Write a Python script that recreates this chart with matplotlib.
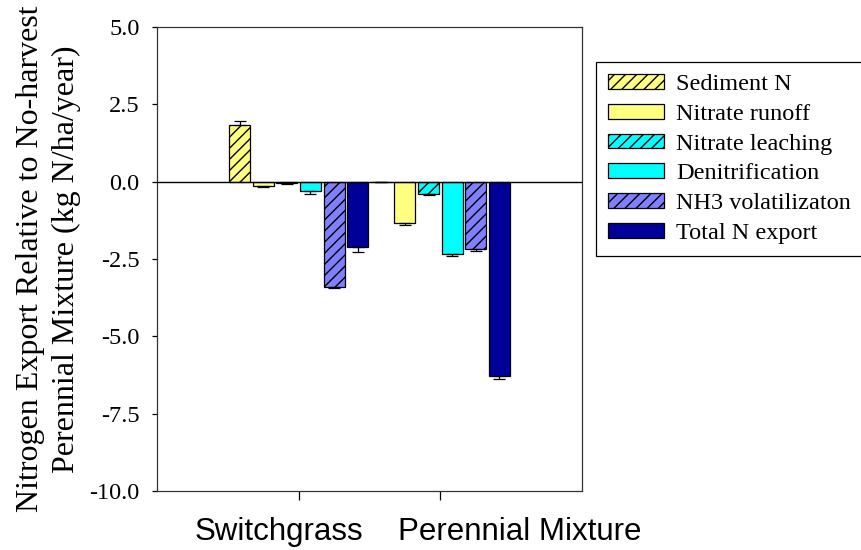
"""
Nitrogen export relative to the no-harvest perennial mixture, by pathway.

Grouped bars (one group per harvested system) with one-sided error bars,
hatched fill for the "particulate / gaseous" pathways, as in the original figure.

Output: out.png
"""

import matplotlib.pyplot as plt
import numpy as np

CATEGORIE = ["Switchgrass", "Perennial Mixture"]
SERIE = ["Sediment N", "Nitrate runoff", "Nitrate leaching",
         "Denitrification", "NH3 volatilizaton", "Total N export"]

SEDIMENT_N = [1.83, 0.0]
NITRATE_RUNOFF = [-0.14, -1.35]
NITRATE_LEACHING = [-0.05, -0.41]
DENITRIFICATION = [-0.31, -2.33]
NH3_VOLATILIZATION = [-3.40, -2.18]
TOTAL_N_EXPORT = [-2.10, -6.28]

ERR_SEDIMENT_N = [0.12, 0.0]
ERR_NITRATE_RUNOFF = [0.04, 0.06]
ERR_NITRATE_LEACHING = [0.03, 0.02]
ERR_DENITRIFICATION = [0.08, 0.07]
ERR_NH3_VOLATILIZATION = [0.05, 0.06]
ERR_TOTAL_N_EXPORT = [0.17, 0.11]

Y_TICKS = [5.0, 2.5, 0.0, -2.5, -5.0, -7.5, -10.0]

COLORI = ["#FFFF80", "#FFFF80", "#00FFFF", "#00FFFF", "#8080FF", "#000099"]
TRATTEGGI = ["///", None, "///", None, "///", None]

SERIF = ["Liberation Serif", "DejaVu Serif"]
SANS = ["Liberation Sans", "DejaVu Sans"]

# left edge (pixels) of the category names: in the original they are not
# centred under the ticks, they sit as free text under the axis
X_ETICHETTE_PX = [195, 398]


def main():
    valori = [SEDIMENT_N, NITRATE_RUNOFF, NITRATE_LEACHING,
              DENITRIFICATION, NH3_VOLATILIZATION, TOTAL_N_EXPORT]
    errori = [ERR_SEDIMENT_N, ERR_NITRATE_RUNOFF, ERR_NITRATE_LEACHING,
              ERR_DENITRIFICATION, ERR_NH3_VOLATILIZATION, ERR_TOTAL_N_EXPORT]

    plt.rcParams["hatch.linewidth"] = 1.0
    W, H = 862, 550
    fig = plt.figure(figsize=(W / 100, H / 100), dpi=100)
    ax = fig.add_axes([157 / W, 1 - 491 / H, 425 / W, 464 / H])

    x = np.arange(len(CATEGORIE))
    n = len(SERIE)
    slot = 1 / n
    larghezza = slot * 0.89

    for i, (nome, v, e) in enumerate(zip(SERIE, valori, errori)):
        v = np.array(v)
        e = np.array(e)
        # error bar only in the direction of the bar (as in SigmaPlot)
        basso = np.where(v < 0, e, 0)
        alto = np.where(v >= 0, e, 0)
        ax.bar(x + (i - (n - 1) / 2) * slot, v, width=larghezza, color=COLORI[i],
               hatch=TRATTEGGI[i], edgecolor="black", linewidth=0.9, label=nome,
               yerr=[basso, alto], error_kw=dict(ecolor="black", elinewidth=0.9,
                                                 capsize=4.3, capthick=0.9),
               zorder=2)

    ax.axhline(0, color="black", linewidth=1.0, zorder=3)

    ax.set_xlim(-1, 2)
    ax.set_ylim(-10, 5)
    ax.set_yticks(Y_TICKS)
    ax.set_yticklabels([f"{t:.1f}" for t in Y_TICKS], fontfamily=SERIF, fontsize=17.5)
    ax.set_xticks(x)
    ax.set_xticklabels([])
    ax.tick_params(axis="y", direction="out", length=3.5, width=0.9, pad=9)
    ax.tick_params(axis="x", direction="out", length=6.2, width=0.9)
    for spine in ax.spines.values():
        spine.set_linewidth(0.9)
        spine.set_color("#333333")

    for nome, px in zip(CATEGORIE, X_ETICHETTE_PX):
        fig.text(px / W, 1 - 540 / H, nome, ha="left", va="baseline",
                 fontfamily=SANS, fontsize=22.5)

    ax.set_ylabel("Nitrogen Export Relative to No-harvest\nPerennial Mixture (kg N/ha/year)",
                  fontfamily=SERIF, fontsize=23, linespacing=1.35)
    ax.yaxis.set_label_coords(-0.178, 0.5)

    leg = ax.legend(loc="upper left", bbox_to_anchor=(596 / W, 1 - 62 / H),
                    bbox_transform=fig.transFigure, prop=dict(family=SERIF, size=17.5),
                    frameon=True, fancybox=False, edgecolor="black", framealpha=1,
                    handlelength=2.3, handleheight=0.55, handletextpad=0.5,
                    labelspacing=0.36, borderpad=0.5, borderaxespad=0)
    leg.get_frame().set_linewidth(0.9)

    fig.savefig("out.png", dpi=100, facecolor="white")


if __name__ == "__main__":
    main()
